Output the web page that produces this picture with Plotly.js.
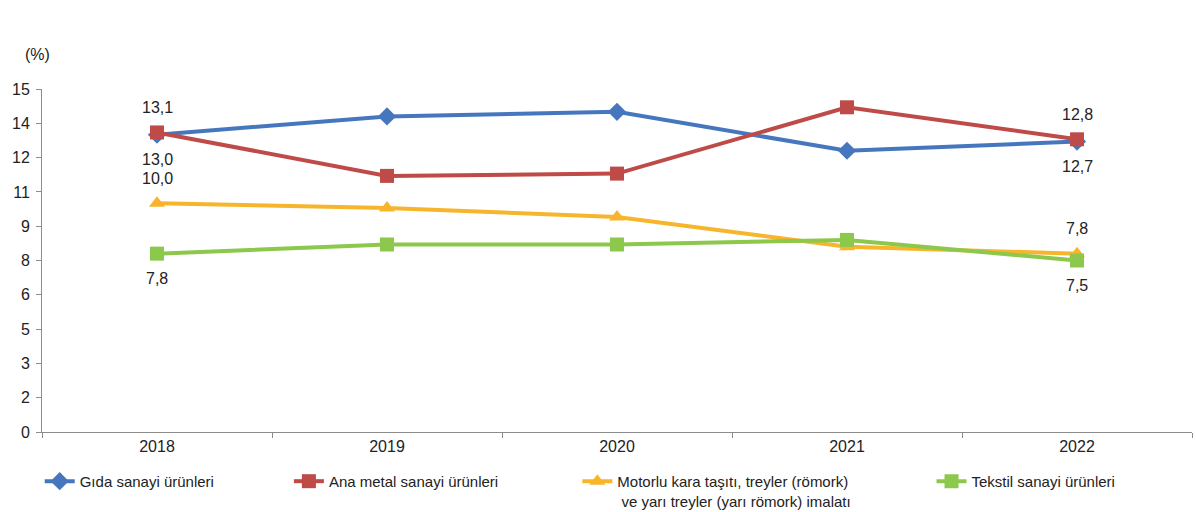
<!DOCTYPE html>
<html>
<head>
<meta charset="utf-8">
<script src="https://cdn.plot.ly/plotly-3.0.1.min.js"></script>
<style>html,body{margin:0;padding:0;background:#fff;}#chart{width:1196px;height:512px;}</style>
</head>
<body>
<div id="chart"></div>
<script>
const years = ["2018", "2019", "2020", "2021", "2022"];
const gida = [13.0, 13.8, 14.0, 12.3, 12.7];
const anaMetal = [13.1, 11.2, 11.3, 14.2, 12.8];
const motorlu = [10.0, 9.8, 9.4, 8.1, 7.8];
const tekstil = [7.8, 8.2, 8.2, 8.4, 7.5];
const seriesNames = [
  "Gıda sanayi ürünleri",
  "Ana metal sanayi ürünleri",
  "Motorlu kara taşıtı, treyler (römork)<br> ve yarı treyler (yarı römork) imalatı",
  "Tekstil sanayi ürünleri"
];
const yTickVals = [0, 1.5, 3, 4.5, 6, 7.5, 9, 10.5, 12, 13.5, 15];
const yTickText = ["0", "2", "3", "5", "6", "8", "9", "11", "12", "14", "15"];
// which points carry a data label (index) and placement
const labelPoints = [0, 4];
const labelPlacement = [
  [-1, -1], // gida: below
  [1, 1],   // ana metal: above
  [1, 1],   // motorlu: above
  [-1, -1]  // tekstil: below
];

const FONT = "Liberation Sans, Arial, sans-serif";
const colors = ["#4677BE", "#BE4B48", "#F7B52C", "#8CC84B"];
const symbols = ["diamond", "square", "triangle-up", "square"];
const sizes = [14, 14, 14, 14];
const allData = [gida, anaMetal, motorlu, tekstil];
const legendNames = ["legend", "legend2", "legend3", "legend4"];
const legendX = [-0.002, 0.2147, 0.4655, 0.7735];

const traces = allData.map((vals, i) => ({
  type: "scatter",
  mode: "lines+markers",
  x: years,
  y: vals,
  name: seriesNames[i],
  legend: legendNames[i],
  line: {color: colors[i], width: 4},
  marker: {symbol: symbols[i], size: sizes[i], color: colors[i]},
  hoverinfo: "skip"
}));

const fmt = v => v.toFixed(1).replace(".", ",");
const annotations = [];
allData.forEach((vals, i) => {
  labelPoints.forEach((p, k) => {
    annotations.push({
      x: p, y: vals[p], xref: "x", yref: "y",
      text: fmt(vals[p]), showarrow: false,
      yshift: labelPlacement[i][k] * 25,
      font: {family: FONT, size: 16, color: "#222"}
    });
  });
});
annotations.push({
  x: -0.004, y: 1.10, xref: "paper", yref: "paper",
  text: "(%)", showarrow: false, xanchor: "center", yanchor: "middle",
  font: {family: FONT, size: 16, color: "#222"}
});

const layout = {
  width: 1196, height: 512,
  margin: {l: 42, r: 4, t: 89, b: 80, autoexpand: false},
  paper_bgcolor: "#fff", plot_bgcolor: "#fff",
  font: {family: FONT, size: 16, color: "#222"},
  showlegend: true,
  xaxis: {
    type: "category",
    range: [-0.5, 4.5],
    showgrid: false, zeroline: false,
    showline: true, linecolor: "#8c8c8c", linewidth: 1,
    ticks: "outside", tickson: "boundaries", ticklen: 5, tickcolor: "#8c8c8c",
    tickfont: {family: FONT, size: 16, color: "#222"},
    fixedrange: true
  },
  yaxis: {
    range: [0, 15],
    tickvals: yTickVals, ticktext: yTickText,
    showgrid: false, zeroline: false,
    showline: true, linecolor: "#8c8c8c", linewidth: 1,
    ticks: "outside", ticklen: 5, tickcolor: "#8c8c8c",
    ticklabelstandoff: 3,
    tickfont: {family: FONT, size: 16, color: "#222"},
    fixedrange: true
  },
  annotations: annotations
};
legendNames.forEach((ln, i) => {
  layout[ln] = {
    x: legendX[i], y: -0.096, xanchor: "left", yanchor: "top",
    orientation: "v", valign: "top",
    bgcolor: "rgba(0,0,0,0)",
    font: {family: FONT, size: 15, color: "#222"},
    tracegroupgap: 0
  };
});

Plotly.newPlot("chart", traces, layout, {displayModeBar: false, staticPlot: true});
</script>
</body>
</html>
